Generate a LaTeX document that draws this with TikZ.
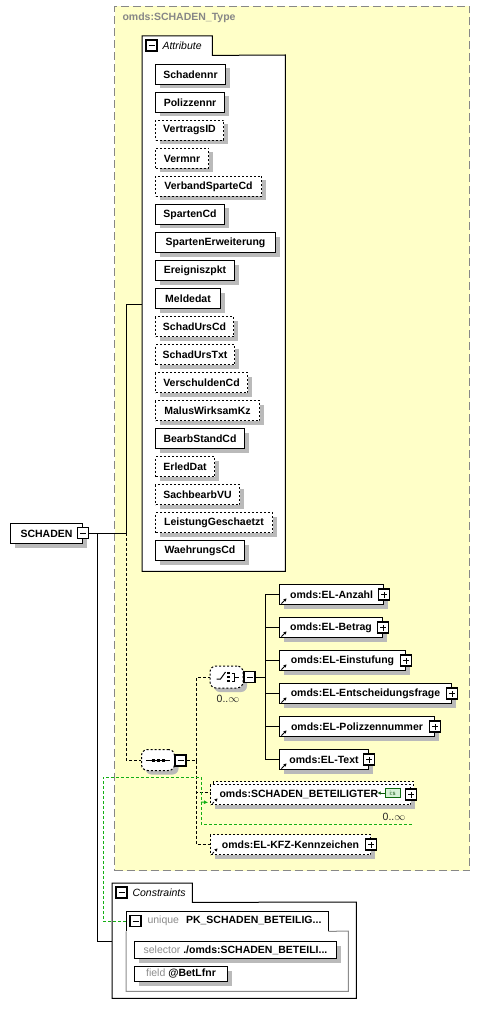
\documentclass[tikz,border=0pt]{standalone}
\usepackage{fontspec}
\setmainfont{Liberation Sans}
\usetikzlibrary{shadows,arrows.meta}

\definecolor{typefill}{RGB}{255,255,200}
\definecolor{typeline}{RGB}{135,135,135}
\definecolor{keygreen}{RGB}{20,175,20}

\begin{document}
\begin{tikzpicture}[x=1pt, y=-1pt, font=\fontsize{10.5}{12}\selectfont,
  shd/.style={drop shadow={shadow xshift=4pt, shadow yshift=-4pt, fill=black!27, opacity=1}},
  attr/.style={draw, fill=white, line width=1pt, anchor=north west, minimum height=20, inner sep=0pt, font=\fontsize{10.5}{12}\selectfont\bfseries, shd},
  optbox/.style={dash pattern=on 2pt off 2pt},
  refic/.style={path picture={\draw[line width=0.9pt, -{Stealth[length=3pt,width=3.5pt]}] ([shift={(2,-1)}]path picture bounding box.south west) -- ++(5,-5);}},
  tgl/.style={draw, fill=white, line width=1.1pt, minimum size=11, inner sep=0pt},
  tglminus/.style={tgl, path picture={\draw[line width=0.9pt] ([xshift=2.5pt]path picture bounding box.west) -- ([xshift=-2.5pt]path picture bounding box.east);}},
  tglplus/.style={tgl, path picture={\draw[line width=0.9pt] ([xshift=2.5pt]path picture bounding box.west) -- ([xshift=-2.5pt]path picture bounding box.east) ([yshift=2.5pt]path picture bounding box.south) -- ([yshift=-2.5pt]path picture bounding box.north);}},
  compos/.style={draw, fill=white, line width=1pt, optbox, rounded corners=6pt, inner sep=0pt, shd},
  conn/.style={line width=1pt},
  optconn/.style={line width=1pt, dash pattern=on 3pt off 2pt},
  keyconn/.style={keygreen, line width=1pt, dash pattern=on 3pt off 2pt},
  occ/.style={text=black!85, inner sep=0pt}]
\useasboundingbox (0,0) rectangle (479,1016);

% complex type
\node[draw=typeline, fill=typefill, dash pattern=on 8pt off 4pt, line width=1pt, anchor=north west, minimum width=355, minimum height=864, inner sep=0pt] (typebox) at (114,6) {};
\node[anchor=west, text=typeline, font=\fontsize{10.5}{12}\selectfont\bfseries] (typelbl) at (119,18) {omds:SCHADEN\_Type};

% attribute group
\node[anchor=north west, fill=white, minimum width=143, minimum height=516, inner sep=0pt] (attrbox) at (142,55) {};
\node[anchor=north west, fill=white, minimum width=70, minimum height=19, inner sep=0pt] (attrtab) at (142,36) {};
\draw[line width=1pt] (attrbox.south west) -- (attrtab.north west) -- (attrtab.north east) -- (attrtab.south east) -- (attrbox.north east) -- (attrbox.south east) -- cycle;
\node[tglminus] (attrTgl) at (151.5,45.5) {};
\node[anchor=west, font=\fontsize{10.5}{12}\selectfont\itshape] (attrlbl) at (159,45.5) {Attribute};

\node[attr, minimum width=70] (schadennr) at (155,64) {Schadennr};
\node[attr, minimum width=69] (polizzennr) at (155,92) {Polizzennr};
\node[attr, optbox, minimum width=68] (vertragsid) at (155,120) {VertragsID};
\node[attr, optbox, minimum width=53] (vermnr) at (155,148) {Vermnr};
\node[attr, optbox, minimum width=106] (verbandsparte) at (155,176) {VerbandSparteCd};
\node[attr, minimum width=69] (spartencd) at (155,204) {SpartenCd};
\node[attr, minimum width=120] (spartenerw) at (155,232) {SpartenErweiterung};
\node[attr, minimum width=79] (ereignis) at (155,260) {Ereigniszpkt};
\node[attr, minimum width=65] (meldedat) at (155,288) {Meldedat};
\node[attr, optbox, minimum width=78] (schadurscd) at (155,316) {SchadUrsCd};
\node[attr, optbox, minimum width=79] (schadurstxt) at (155,344) {SchadUrsTxt};
\node[attr, optbox, minimum width=92] (verschulden) at (155,372) {VerschuldenCd};
\node[attr, optbox, minimum width=104] (malus) at (155,400) {MalusWirksamKz};
\node[attr, minimum width=89] (bearbstand) at (155,428) {BearbStandCd};
\node[attr, optbox, minimum width=59] (erleddat) at (155,456) {ErledDat};
\node[attr, optbox, minimum width=84] (sachbearb) at (155,484) {SachbearbVU};
\node[attr, optbox, minimum width=117] (leistung) at (155,512) {LeistungGeschaetzt};
\node[attr, minimum width=89] (waehrung) at (155,540) {WaehrungsCd};

% root element
\node[attr, minimum width=72] (schaden) at (10,523) {SCHADEN};
\node[tglminus] (schadenTgl) at (83,533) {};

% sequence
\node[compos, minimum width=33, minimum height=21] (seq) at (158,760) {};
\draw[line width=1pt] ([xshift=-12]seq.center) -- ([xshift=12]seq.center);
\fill ([xshift=-5]seq.center) +(-1.5,-1.5) rectangle +(1.5,1.5);
\fill (seq.center) +(-1.5,-1.5) rectangle +(1.5,1.5);
\fill ([xshift=5]seq.center) +(-1.5,-1.5) rectangle +(1.5,1.5);
\node[tglminus] (seqTgl) at (180.5,760.5) {};

% choice
\node[compos, minimum width=33, minimum height=22] (choice) at (226.5,677) {};
\draw[line width=1pt] (choice.center) +(-10,2) -- +(-6,2) -- +(-1,-5);
\fill (choice.center) +(0.8,-5.2) rectangle +(3.2,-2.8);
\fill (choice.center) +(0.8,-1.2) rectangle +(3.2,1.2);
\fill (choice.center) +(0.8,2.8) rectangle +(3.2,5.2);
\draw[line width=1pt] (choice.center) +(5,-4) -- +(8,-4) -- +(8,4) -- +(5,4) +(8,0) -- +(12,0);
\node[tglminus] (choiceTgl) at (249.5,677) {};
\node[occ] (choiceOcc) at (228,699) {0..$\infty$};

% choice members
\node[attr, refic, minimum width=104] (anzahl) at (279,584) {omds:EL-Anzahl};
\node[tglplus] (anzahlTgl) at (anzahl.east) {};
\node[attr, refic, minimum width=103] (betrag) at (279,617) {omds:EL-Betrag};
\node[tglplus] (betragTgl) at (betrag.east) {};
\node[attr, refic, minimum width=126] (einstufung) at (279,650) {omds:EL-Einstufung};
\node[tglplus] (einstufungTgl) at (einstufung.east) {};
\node[attr, refic, minimum width=172] (entscheidung) at (279,683) {omds:EL-Entscheidungsfrage};
\node[tglplus] (entscheidungTgl) at (entscheidung.east) {};
\node[attr, refic, minimum width=155] (polnr) at (279,716) {omds:EL-Polizzennummer};
\node[tglplus] (polnrTgl) at (polnr.east) {};
\node[attr, refic, minimum width=89] (eltext) at (279,749) {omds:EL-Text};
\node[tglplus] (eltextTgl) at (eltext.east) {};

% repeated element with key reference
\node[draw, fill=white, optbox, line width=1pt, anchor=north west, minimum width=200, minimum height=20, inner sep=0pt] (beteilBack) at (213,781) {};
\node[attr, optbox, refic, text width=182pt, align=left, inner xsep=9pt] (beteil) at (210,784) {omds:SCHADEN\_BETEILIGTER};
\node[draw=keygreen!60!black, fill=keygreen!18, line width=0.8pt, minimum width=15, minimum height=9, inner sep=0pt, text=keygreen!45!black, font=\fontsize{6}{6}\selectfont] (keyic) at (392.5,793) {i:s};
\draw[keygreen!50!black, line width=0.9pt, {Latex[length=3pt,width=3.5pt]}-] ([xshift=-7]keyic.west) -- (keyic.west);
\node[tglplus] (beteilTgl) at (beteil.east) {};
\node[occ] (beteilOcc) at (394,817) {0..$\infty$};

\node[attr, optbox, refic, minimum width=160] (kfz) at (210,834) {omds:EL-KFZ-Kennzeichen};
\node[tglplus] (kfzTgl) at (kfz.east) {};

% constraints
\node[anchor=north west, fill=white, minimum width=244, minimum height=96, inner sep=0pt] (constrbox) at (112,902) {};
\node[anchor=north west, fill=white, minimum width=80, minimum height=19, inner sep=0pt] (constrtab) at (112,883) {};
\draw[line width=1pt] (constrbox.south west) -- (constrtab.north west) -- (constrtab.north east) -- (constrtab.south east) -- (constrbox.north east) -- (constrbox.south east) -- cycle;
\node[tglminus] (constrTgl) at (121.5,892.5) {};
\node[anchor=west, font=\fontsize{10.5}{12}\selectfont\itshape] (constrlbl) at (129,892.5) {Constraints};

\node[anchor=north west, fill=white, minimum width=222, minimum height=60, inner sep=0pt] (uniqbox) at (126,931) {};
\node[anchor=north west, fill=white, minimum width=202, minimum height=20, inner sep=0pt] (uniqtab) at (126,911) {};
\draw[line width=1pt] (uniqtab.south west) -- (uniqtab.north west) -- (uniqtab.north east) -- (uniqtab.south east);
\draw[black!45, line width=1pt] (uniqtab.south east) -- (uniqbox.north east) -- (uniqbox.south east) -- (uniqbox.south west) -- (uniqtab.south west);
\node[tglminus] (uniqTgl) at (135.5,921) {};
\node[anchor=west] (uniqlbl) at (144,921) {{\color{black!45}unique}\hspace{7pt}\textbf{PK\_SCHADEN\_BETEILIG...}};
\node[attr, minimum width=202, minimum height=17] (selector) at (134,941) {{\mdseries\color{black!45}selector} ./omds:SCHADEN\_BETEILI...};
\node[attr, minimum width=93, minimum height=15] (field) at (134,966) {{\mdseries\color{black!45}field} @BetLfnr};

% connectors
\draw[conn] (schadenTgl.east) -- ++(37,0) coordinate (sj) |- ([yshift=9]attrbox.west);
\draw[conn] ([xshift=8]schadenTgl.east) |- ([yshift=9]constrbox.west);
\draw[optconn] (sj) |- (seq.west);
\draw[optconn] (seqTgl.east) -- ++(10,0) coordinate (sqj);
\draw[optconn] (sqj) |- (choice.west);
\draw[optconn] (sqj) |- ([yshift=2]beteil.west);
\draw[optconn] (sqj) |- (kfz.west);
\draw[conn] (choiceTgl.east) -- ++(10,0) coordinate (chj);
\draw[conn] (chj) |- (anzahl.west);
\draw[conn] (chj) |- (betrag.west);
\draw[conn] (chj) |- (einstufung.west);
\draw[conn] (chj) |- (entscheidung.west);
\draw[conn] (chj) |- (polnr.west);
\draw[conn] (chj) |- (eltext.west);

% key reference
\coordinate (kref) at (201,802);
\draw[keyconn] (uniqtab.west) -| (103,777) -| (201,824) -- (413,824);
\draw[keyconn, -{Latex[length=4pt,width=4pt]}] (kref) -- ([xshift=-2,yshift=-8]beteil.west);
\end{tikzpicture}
\end{document}
